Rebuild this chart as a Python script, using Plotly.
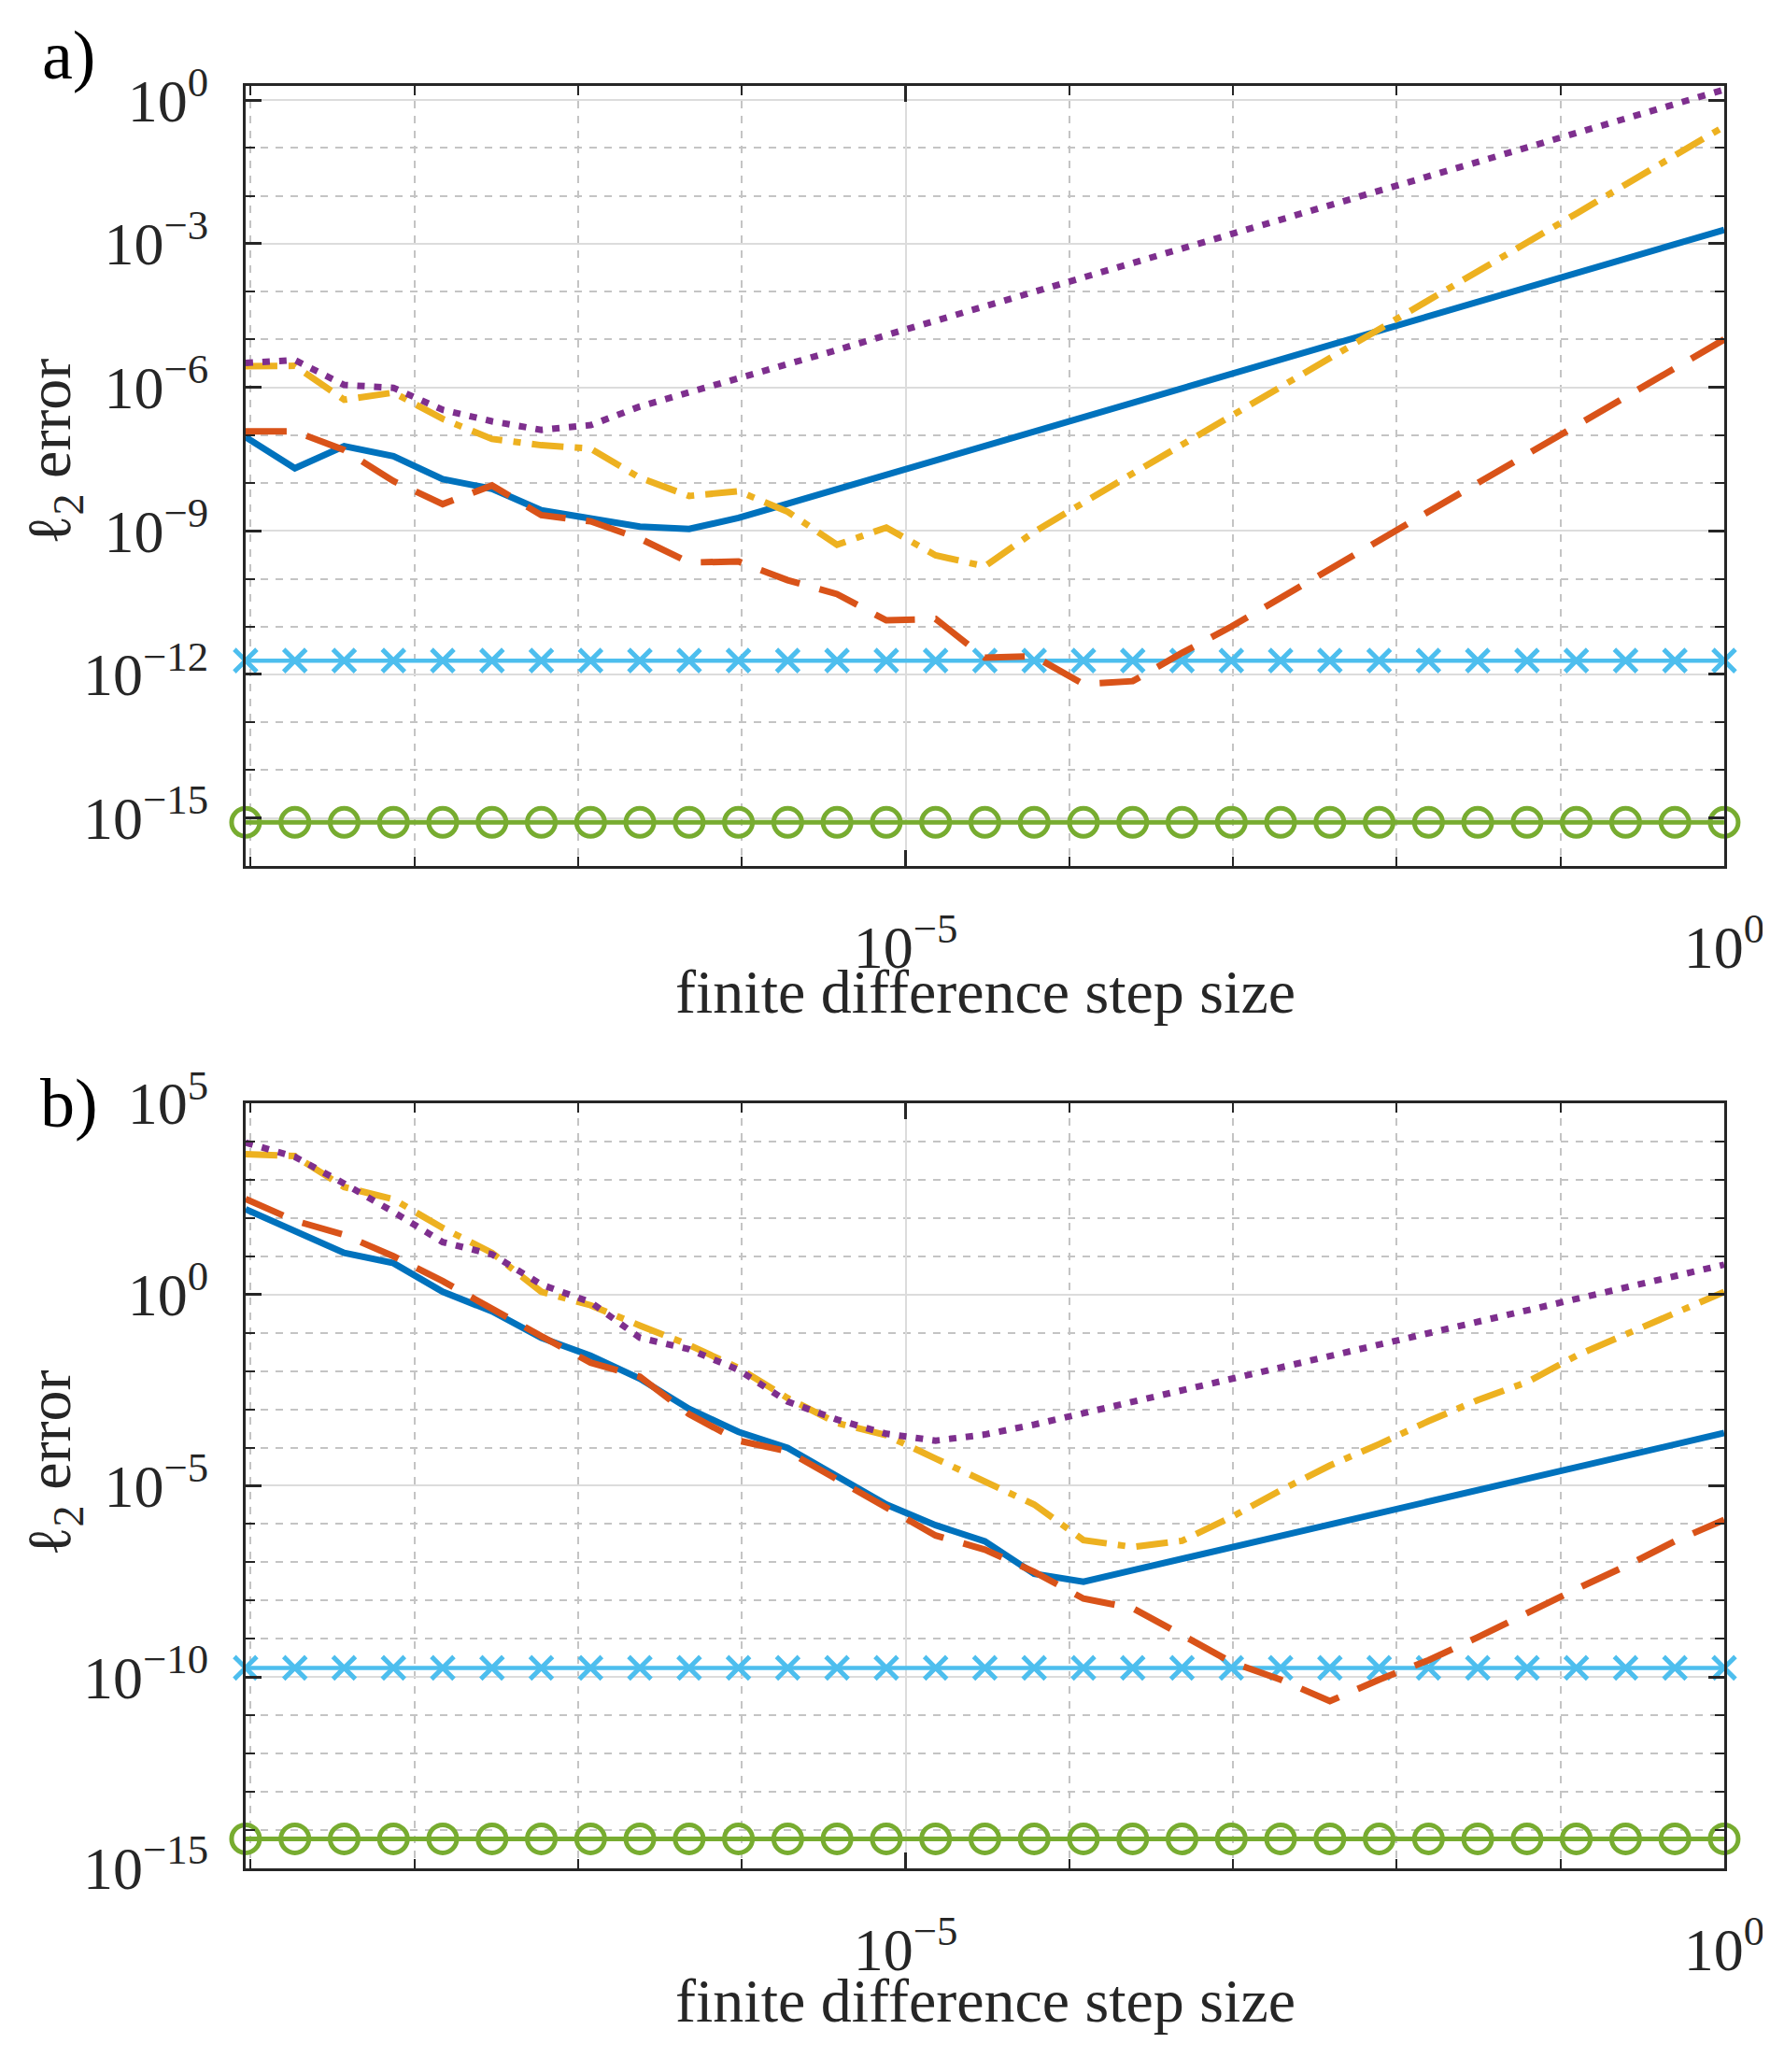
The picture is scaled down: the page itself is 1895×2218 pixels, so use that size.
import plotly.graph_objects as go

# step sizes h = 2^e, e = -30 .. 0
step_exp = list(range(-30, 1))
h = [2.0 ** e for e in step_exp]

# panel a) log10 of l2 error
blue_a = [-7.04, -7.69, -7.23, -7.44, -7.92, -8.12, -8.57, -8.73, -8.91, -8.96,
          -8.73, -8.43, -8.13, -7.83, -7.53, -7.23, -6.92, -6.62, -6.32, -6.02,
          -5.72, -5.42, -5.12, -4.82, -4.52, -4.22, -3.91, -3.61, -3.31, -3.01, -2.71]
orange_a = [-6.92, -6.92, -7.31, -7.96, -8.44, -8.05, -8.67, -8.80, -9.16, -9.66,
            -9.64, -10.03, -10.32, -10.87, -10.84, -11.65, -11.62, -12.20, -12.14, -11.55,
            -11.00, -10.40, -9.80, -9.20, -8.60, -8.00, -7.40, -6.80, -6.20, -5.60, -5.00]
yellow_a = [-5.56, -5.55, -6.26, -6.11, -6.66, -7.08, -7.21, -7.28, -7.89, -8.27,
            -8.17, -8.60, -9.29, -8.93, -9.51, -9.74, -9.02, -8.40, -7.80, -7.20,
            -6.60, -6.00, -5.39, -4.79, -4.18, -3.58, -2.97, -2.37, -1.76, -1.16, -0.55]
purple_a = [-5.49, -5.43, -5.95, -6.01, -6.47, -6.71, -6.89, -6.79, -6.40, -6.11,
            -5.82, -5.52, -5.22, -4.91, -4.61, -4.31, -4.01, -3.71, -3.41, -3.10,
            -2.80, -2.50, -2.20, -1.90, -1.59, -1.29, -0.99, -0.69, -0.39, -0.08, 0.22]
cross_a = [-11.71] * 31
circle_a = [-15.09] * 31

# panel b)
blue_b = [2.23, 1.67, 1.09, 0.82, 0.07, -0.44, -1.13, -1.60, -2.20, -2.99,
          -3.59, -4.01, -4.75, -5.49, -6.03, -6.45, -7.30, -7.51, -7.21, -6.91,
          -6.61, -6.31, -6.01, -5.72, -5.42, -5.12, -4.82, -4.52, -4.22, -3.92, -3.62]
orange_b = [2.50, 1.93, 1.56, 1.00, 0.35, -0.39, -1.09, -1.78, -2.15, -3.13,
            -3.82, -4.10, -4.84, -5.58, -6.30, -6.67, -7.25, -7.95, -8.20, -8.90,
            -9.61, -10.07, -10.63, -10.07, -9.56, -8.96, -8.31, -7.70, -7.10, -6.45, -5.89]
yellow_b = [3.67, 3.62, 2.81, 2.49, 1.74, 1.09, 0.07, -0.28, -0.81, -1.32,
            -1.92, -2.71, -3.36, -3.68, -4.29, -4.89, -5.49, -6.42, -6.60, -6.44,
            -5.82, -5.12, -4.47, -3.91, -3.31, -2.76, -2.29, -1.60, -1.04, -0.48, 0.07]
purple_b = [3.97, 3.60, 2.90, 2.16, 1.37, 1.05, 0.26, -0.20, -1.13, -1.43,
            -1.97, -2.80, -3.27, -3.64, -3.82, -3.66, -3.40, -3.10, -2.80, -2.50,
            -2.20, -1.90, -1.60, -1.30, -1.00, -0.70, -0.40, -0.10, 0.20, 0.50, 0.78]
cross_b = [-9.76] * 31
circle_b = [-14.23] * 31

ytick_a = [-15, -12, -9, -6, -3, 0]
ytick_b = [-15, -10, -5, 0, 5]
xtick = [-5, 0]

FONT = "Liberation Serif"
INK = "#262626"


def pow_label(e):
    return "10<sup>%s</sup>" % (str(e).replace("-", "\u2212"))


def add_series(fig, xa, ya, blue, orange, yellow, purple, cross, circ):
    common = dict(x=h, mode="lines", xaxis=xa, yaxis=ya, showlegend=False)
    fig.add_trace(go.Scatter(y=[10 ** v for v in cross], mode="lines+markers", cliponaxis=False,
                             line=dict(color="#4DBEEE", width=4.5),
                             marker=dict(symbol="x-thin", size=24, line=dict(color="#4DBEEE", width=5)),
                             x=h, xaxis=xa, yaxis=ya, showlegend=False))
    fig.add_trace(go.Scatter(y=[10 ** v for v in circ], mode="lines+markers", cliponaxis=False,
                             line=dict(color="#77AC30", width=5),
                             marker=dict(symbol="circle-open", size=30, line=dict(color="#77AC30", width=5)),
                             x=h, xaxis=xa, yaxis=ya, showlegend=False))
    fig.add_trace(go.Scatter(y=[10 ** v for v in blue], line=dict(color="#0072BD", width=7), **common))
    fig.add_trace(go.Scatter(y=[10 ** v for v in orange],
                             line=dict(color="#D95319", width=7, dash="44px,22px"), **common))
    fig.add_trace(go.Scatter(y=[10 ** v for v in yellow],
                             line=dict(color="#EDB120", width=7, dash="34px,12px,8px,12px"), **common))
    fig.add_trace(go.Scatter(y=[10 ** v for v in purple],
                             line=dict(color="#7E2F8E", width=7, dash="8px,10px"), **common))


def x_axis(domain_y_anchor):
    return dict(
        type="log", range=[-30 * 0.30103, 0], domain=[0.1351, 0.9740], anchor=domain_y_anchor,
        automargin=False, ticklabeloverflow="allow",
        tickvals=[10.0 ** e for e in xtick], ticktext=[pow_label(e) for e in xtick],
        ticks="inside", ticklen=17, tickwidth=2.5, tickcolor=INK, ticklabelstandoff=29,
        showline=True, linecolor=INK, linewidth=3, mirror="allticks",
        showgrid=True, gridcolor="#DCDCDC", gridwidth=2, zeroline=False,
        tickfont=dict(family=FONT, size=64, color=INK),
        minor=dict(tickvals=[10.0 ** e for e in range(-9, 0) if e != -5],
                   ticks="inside", ticklen=10, tickcolor=INK, tickwidth=2,
                   showgrid=True, gridcolor="#C4C4C4", gridwidth=2, griddash="8px,8px"),
    )


def y_axis(domain, rng, ticks_major, anchor):
    return dict(
        type="log", range=rng, domain=domain, anchor=anchor,
        automargin=False, ticklabeloverflow="allow",
        tickvals=[10.0 ** e for e in ticks_major], ticktext=[pow_label(e) for e in ticks_major],
        ticks="inside", ticklen=17, tickwidth=2.5, tickcolor=INK, ticklabelstandoff=24,
        showline=True, linecolor=INK, linewidth=3, mirror="allticks",
        showgrid=True, gridcolor="#DCDCDC", gridwidth=2, zeroline=False,
        tickfont=dict(family=FONT, size=64, color=INK),
        minor=dict(tickvals=[10.0 ** e for e in range(int(rng[0]), int(rng[1]) + 1) if e not in ticks_major],
                   ticks="inside", ticklen=10, tickcolor=INK, tickwidth=2,
                   showgrid=True, gridcolor="#C4C4C4", gridwidth=2, griddash="8px,8px"),
    )


fig = go.Figure()
add_series(fig, "x", "y", blue_a, orange_a, yellow_a, purple_a, cross_a, circle_a)
add_series(fig, "x2", "y2", blue_b, orange_b, yellow_b, purple_b, cross_b, circle_b)

# page body keeps its default 8px margin, so the figure is a bit smaller than the window
fig.update_layout(
    width=1887, height=2202,
    margin=dict(l=0, r=0, t=0, b=0),
    paper_bgcolor="white", plot_bgcolor="white",
    xaxis=x_axis("y"),
    yaxis=y_axis([0.5827, 0.9619], [-16, 0.3], ytick_a, "x"),
    xaxis2=x_axis("y2"),
    yaxis2=y_axis([0.0954, 0.4673], [-15, 5], ytick_b, "x2"),
)

ann = dict(xref="paper", yref="paper", showarrow=False, xanchor="center", yanchor="middle",
           font=dict(family=FONT, size=66, color=INK))
fig.add_annotation(text="finite difference step size", x=0.5548, y=0.5215, **ann)
fig.add_annotation(text="finite difference step size", x=0.5548, y=0.0310, **ann)
fig.add_annotation(text="\u2113<sub>2</sub> error", x=0.0260, y=0.7838, textangle=-90, **ann)
fig.add_annotation(text="\u2113<sub>2</sub> error", x=0.0260, y=0.2920, textangle=-90, **ann)
fig.add_annotation(text="a)", x=0.0350, y=0.9768, xanchor="center", yanchor="middle",
                   xref="paper", yref="paper", showarrow=False,
                   font=dict(family=FONT, size=74, color="black"))
fig.add_annotation(text="b)", x=0.0350, y=0.4673, xanchor="center", yanchor="middle",
                   xref="paper", yref="paper", showarrow=False,
                   font=dict(family=FONT, size=74, color="black"))

fig.write_html("out.html")
